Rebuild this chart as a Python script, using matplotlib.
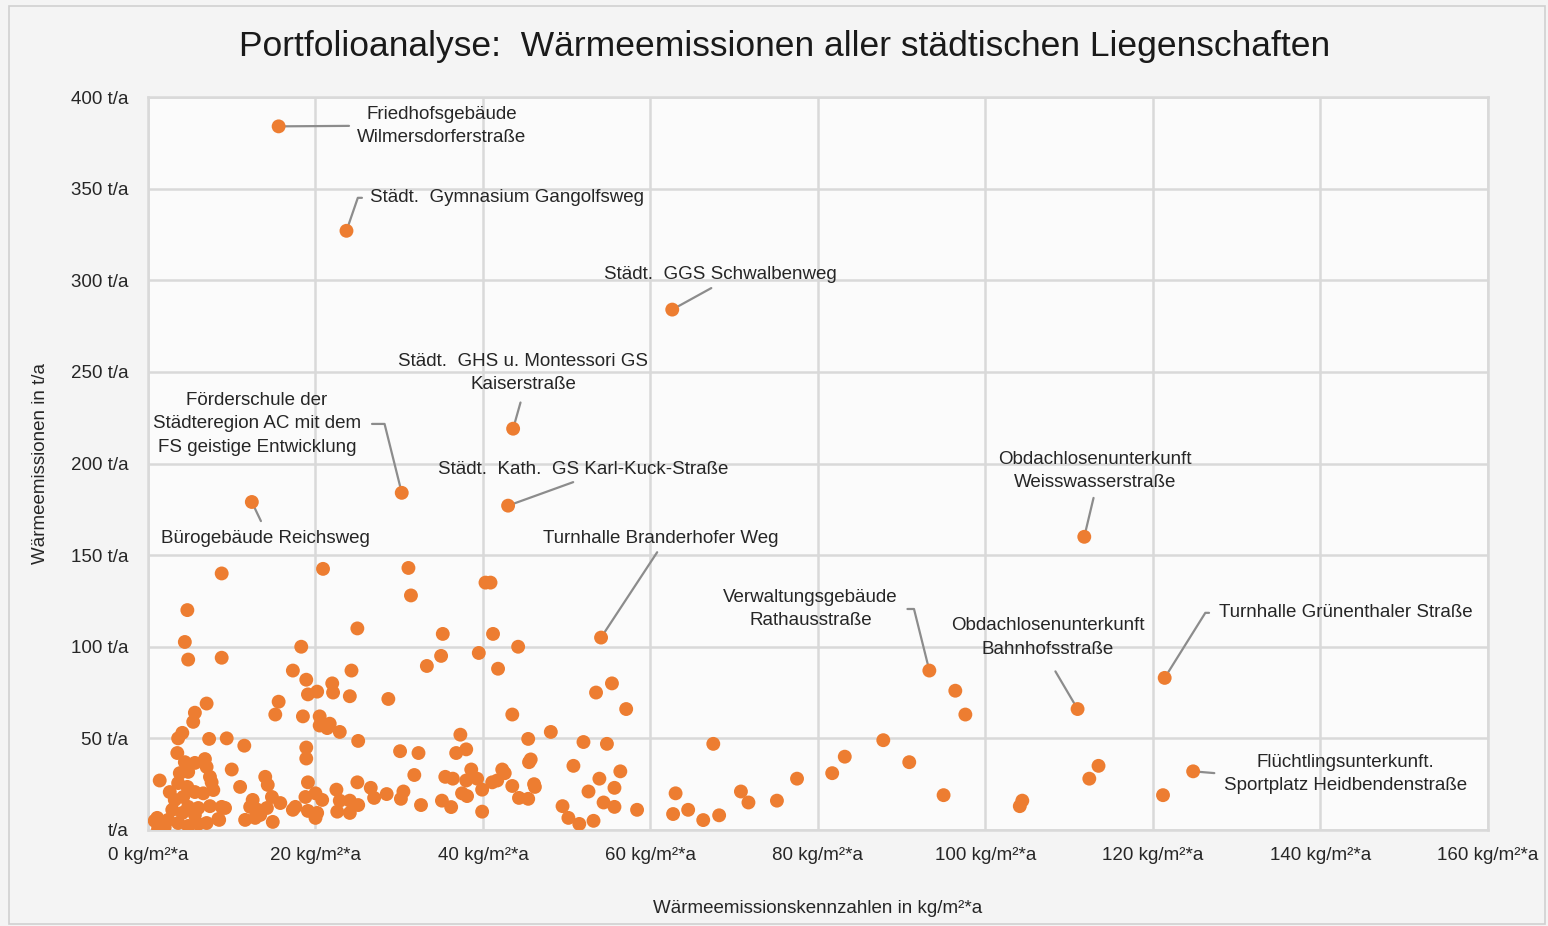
import matplotlib
matplotlib.use("Agg")
import matplotlib.pyplot as plt
from matplotlib.patches import Rectangle

plt.rcParams["font.family"] = ["Liberation Sans", "DejaVu Sans"]

# unlabelled properties: kennzahl (kg/m2*a), emission (t/a)
kennzahl = [
    1.2, 2.0, 1.1, 1.7, 2.4, 3.6, 4.8, 6.0, 7.0, 2.9, 4.1, 5.6, 8.4, 4.8, 6.0, 7.4, 8.8,
    2.6, 3.2, 4.2, 3.6, 4.7, 5.6, 6.6, 7.8, 1.4, 3.8, 4.8, 7.4, 7.6, 4.4, 5.6, 6.8, 7.0,
    3.5, 4.1, 3.6, 7.3, 9.4, 5.4, 5.6, 7.0, 4.7, 4.4, 4.8, 8.8, 8.8, 10.0, 11.0, 11.5,
    9.2, 8.5, 11.6, 0.8,
    14.0, 14.3, 14.8, 15.8, 12.5, 12.2, 13.1, 14.2, 12.8, 13.4, 14.9, 17.6, 17.3, 18.9,
    18.9, 19.1, 18.8, 20.0, 20.8, 19.1, 20.2, 20.0, 20.5, 21.4,
    20.9, 18.3, 17.3, 18.9, 19.1, 20.2, 15.6, 15.2, 18.5, 20.5, 22.0, 22.1,
    31.1, 31.4, 25.0, 35.2, 35.0, 33.3, 24.3, 24.1, 28.7, 21.7, 22.9, 25.1, 37.3, 36.8,
    38.0, 30.1, 32.3, 31.8, 25.0, 22.5, 26.6, 27.0, 28.5, 30.5, 30.2, 32.6, 35.1, 36.2,
    35.5, 36.4, 38.0, 38.6, 39.3, 37.5, 38.1, 39.9, 39.9, 22.9, 24.1, 25.1, 22.6, 24.1,
    40.3, 40.9, 41.2, 44.2, 39.5, 41.8, 43.5, 45.4, 48.1, 45.5, 45.7, 41.1, 41.7, 42.3,
    42.6, 43.5, 46.1, 46.2, 44.3, 45.4,
    55.4, 53.5, 57.1, 52.0, 54.8, 50.8, 56.4, 53.9, 55.7, 52.6, 54.4, 55.7, 58.4, 49.5,
    50.2, 51.5, 53.2, 67.5, 63.0, 62.7, 64.5, 66.3, 68.2, 70.8, 71.7, 75.1, 77.5, 81.7,
    83.2,
    96.4, 97.6, 87.8, 90.9, 95.0, 113.5, 112.4, 104.4, 104.1, 121.2,
]
emission = [
    0.5, 1.6, 6.6, 4.4, 5.5, 3.8, 2.2, 3.3, 3.8, 11, 9.3, 8.2, 6, 12.6, 12, 13, 12.6,
    20.7, 16.4, 18, 25.6, 23.5, 20.7, 20, 21.8, 27, 31, 31.7, 29, 26, 37, 36.6, 38.7, 34.4,
    42, 53, 50, 49.7, 50, 59, 64, 69, 120, 102.6, 93, 94, 140, 33, 23.5, 46,
    12, 5.5, 5.5, 5,
    29, 24.6, 18, 14.7, 16.4, 12.6, 11, 12, 6.6, 8.2, 4.4, 12.6, 11, 45,
    39, 26, 18, 20, 16.4, 10.4, 9.3, 6.6, 57, 55.6,
    142.5, 100, 87, 82, 74, 75.5, 70, 63, 62, 62, 80, 75,
    143, 128, 110, 107, 95, 89.5, 87, 73, 71.5, 58, 53.5, 48.6, 52, 42,
    44, 43, 42, 30, 26, 22, 23, 17.5, 19.6, 21, 17, 13.6, 16, 12.5,
    29, 28, 27, 33, 28, 20, 18.5, 22, 10, 16, 16, 13.6, 10, 9.3,
    135, 135, 107, 100, 96.6, 88, 63, 49.7, 53.5, 37, 38.5, 26, 27, 33,
    31, 24, 25, 23.5, 17.5, 17,
    80, 75, 66, 48, 47, 35, 32, 28, 23, 21, 15, 12.6, 11, 13,
    6.6, 3.3, 5, 47, 20, 8.7, 11, 5.4, 8, 21, 15, 16, 28, 31,
    40,
    76, 63, 49, 37, 19, 35, 28, 16, 13, 19,
]

# labelled properties
names = [
    "Friedhofsgebäude\nWilmersdorferstraße",
    "Städt.  Gymnasium Gangolfsweg",
    "Städt.  GGS Schwalbenweg",
    "Städt.  GHS u. Montessori GS\nKaiserstraße",
    "Förderschule der\nStädteregion AC mit dem\nFS geistige Entwicklung",
    "Städt.  Kath.  GS Karl-Kuck-Straße",
    "Bürogebäude Reichsweg",
    "Turnhalle Branderhofer Weg",
    "Obdachlosenunterkunft\nWeisswasserstraße",
    "Verwaltungsgebäude\nRathausstraße",
    "Obdachlosenunterkunft\nBahnhofsstraße",
    "Turnhalle Grünenthaler Straße",
    "Flüchtlingsunterkunft.\nSportplatz Heidbendenstraße",
]
named_x = [15.6, 23.7, 62.6, 43.6, 30.3, 43.0, 12.4, 54.1, 111.8, 93.3, 111.0, 121.4, 124.8]
named_y = [384, 327, 284, 219, 184, 177, 179, 105, 160, 87, 66, 83, 32]
label_x = [35.1, 42.9, 68.3, 44.8, 13.0, 52.0, 14.0, 61.2, 113.1, 79.1, 107.4, 143.0, 143.0]
label_y = [384.3, 345, 303, 249.5, 221.6, 196.5, 159, 159, 196, 120.6, 105, 118.5, 30.6]

# leader line style per label: (anchor on text box, connection style, gap at text)
leaders = [
    ((0, 0.5), "arc3", 4),
    ((0, 0.5), "angle,angleA=0,angleB=71,rad=0", 4),
    ((0.5, 0), "arc3", 3),
    ((0.5, 0), "arc3", 5),
    ((1, 0.5), "angle,angleA=0,angleB=104,rad=0", 6),
    ((0.5, 0), "arc3", 2),
    ((0.5, 1), "arc3", 5),
    ((0.5, 0), "arc3", 2),
    ((0.5, 0), "arc3", 3),
    ((1, 0.5), "angle,angleA=0,angleB=104,rad=0", 5),
    ((0.5, 0), "arc3", 9),
    ((0, 0.5), "angle,angleA=0,angleB=58,rad=0", 5),
    ((0, 0.5), "arc3", 5),
]

x_ticks = [0, 20, 40, 60, 80, 100, 120, 140, 160]
y_ticks = [0, 50, 100, 150, 200, 250, 300, 350, 400]

ORANGE = "#ED7D31"
GRID = "#d9d9d9"
TEXT = "#262626"

fig = plt.figure(figsize=(15.48, 9.26), dpi=100, facecolor="#f4f4f4")
ax = fig.add_axes([0.0956, 0.1037, 0.8656, 0.7915])
ax.set_facecolor("#fbfbfb")

ax.scatter(kennzahl, emission, s=100, color=ORANGE, edgecolors="none", zorder=3)
ax.scatter(named_x, named_y, s=100, color=ORANGE, edgecolors="none", zorder=3)

for name, px, py, tx, ty, (rel, conn, gap) in zip(names, named_x, named_y,
                                                 label_x, label_y, leaders):
    ax.annotate(name, xy=(px, py), xytext=(tx, ty), ha="center", va="center",
                fontsize=13.5, color=TEXT, linespacing=1.5, zorder=2,
                arrowprops=dict(arrowstyle="-", color="#8c8c8c", lw=1.6,
                                shrinkA=gap, shrinkB=0, relpos=rel,
                                connectionstyle=conn))

ax.set_xlim(0, 160)
ax.set_ylim(0, 400)
ax.set_xticks(x_ticks)
ax.set_yticks(y_ticks)
ax.set_xticklabels([f"{v} kg/m²*a" for v in x_ticks])
ax.set_yticklabels([f"{v} t/a" if v else "t/a" for v in y_ticks])
ax.tick_params(length=0, labelsize=13.5, labelcolor=TEXT)
ax.tick_params(axis="x", pad=12)
ax.tick_params(axis="y", pad=14)
ax.grid(True, color=GRID, linewidth=1.8, zorder=0)
ax.set_axisbelow(True)
for sp in ax.spines.values():
    sp.set_color(GRID)
    sp.set_linewidth(1.8)

ax.set_xlabel("Wärmeemissionskennzahlen in kg/m²*a", fontsize=13.5, color=TEXT, labelpad=26)
ax.set_ylabel("Wärmeemissionen in t/a", fontsize=13.5, color=TEXT, labelpad=16)

fig.suptitle("Portfolioanalyse:  Wärmeemissionen aller städtischen Liegenschaften",
             x=0.507, y=0.968, fontsize=25.5, color="#1a1a1a")

fig.patches.append(Rectangle((0.006, 0.002), 0.992, 0.992, transform=fig.transFigure,
                             fill=False, edgecolor="#d0d0d0", linewidth=1.2))

fig.savefig("out.png", dpi=100, facecolor=fig.get_facecolor())
